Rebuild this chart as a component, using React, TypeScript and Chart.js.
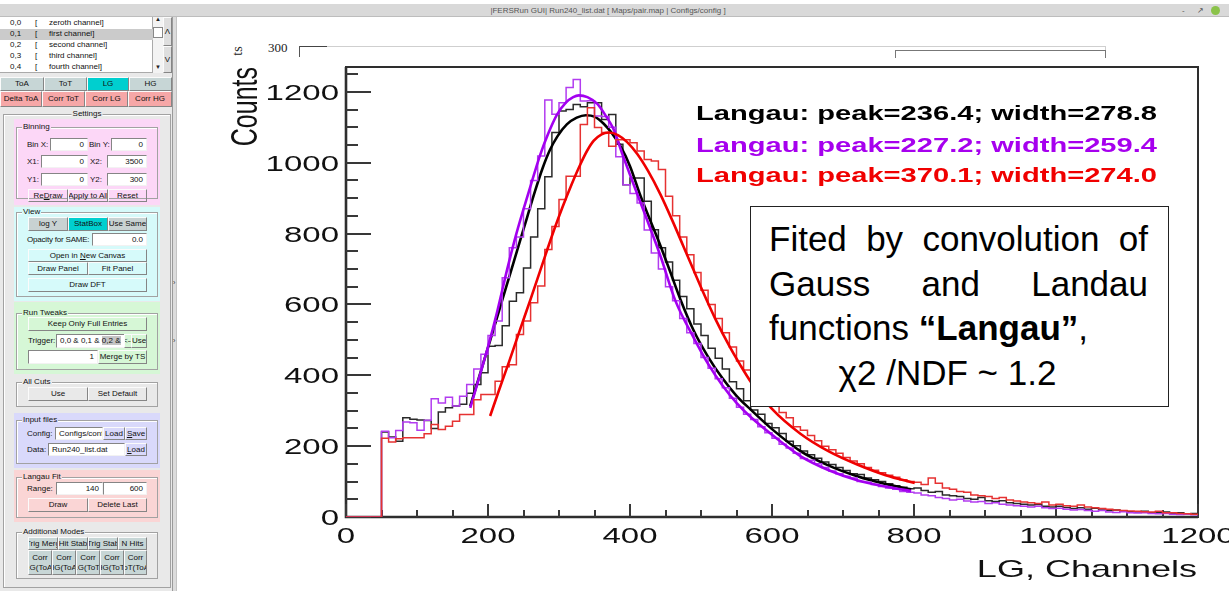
import React, { useEffect, useRef } from 'react';
import { Chart, registerables } from 'chart.js';

Chart.register(...registerables);

// ---------------- DATA ----------------
const BIN_START = 50;
const BIN_WIDTH = 10;

// LG histograms, counts per 10-channel bin, bins starting at 50
const BLACK_HIST = [
  240, 226, 214, 280, 276, 274, 272, 250, 296, 308,
  313, 318, 349, 374, 407, 482, 484, 540, 609, 633,
  703, 790, 870, 960, 1085, 1146, 1150, 1164, 1158, 1169,
  1169, 1122, 1136, 1052, 938, 957, 957, 891, 811, 760,
  720, 668, 622, 588, 545, 512, 476, 448, 418, 382,
  362, 328, 302, 290, 264, 252, 236, 214, 201, 186,
  176, 166, 155, 148, 140, 131, 122, 120, 110, 105,
  100, 94, 88, 84, 80, 82, 75, 70, 72, 62,
  60, 58, 52, 50, 55, 46, 44, 46, 40, 38,
  36, 34, 35, 30, 28, 30, 27, 24, 26, 22,
  25, 20, 18, 20, 16, 15, 14, 16, 12, 13,
  14, 10, 12, 9, 10,
];

const PURPLE_HIST = [
  242, 224, 244, 268, 266, 245, 273, 334, 322, 338,
  313, 341, 374, 418, 459, 512, 553, 675, 760, 790,
  870, 950, 1019, 1177, 1137, 1169, 1212, 1235, 1174, 1175,
  1132, 1130, 1100, 1017, 938, 913, 886, 810, 745, 700,
  650, 610, 560, 520, 490, 450, 420, 390, 365, 335,
  310, 290, 275, 255, 238, 222, 205, 195, 180, 165,
  160, 150, 140, 130, 122, 115, 110, 100, 98, 92,
  86, 82, 78, 72, 70, 68, 62, 60, 55, 52,
  48, 50, 45, 42, 44, 38, 40, 36, 34, 32,
  30, 28, 30, 26, 24, 25, 22, 20, 21, 18,
  16, 18, 14, 13, 15, 12, 11, 12, 10, 9,
  10, 8, 7, 8, 6,
];

const RED_HIST = [
  222, 212, 221, 224, 224, 224, 235, 261, 247, 256,
  270, 289, 289, 331, 346, 346, 383, 424, 430, 515,
  553, 605, 652, 755, 820, 896, 962, 962, 1108, 1155,
  1099, 1085, 1046, 1065, 1065, 1056, 1033, 1009, 1005, 981,
  905, 850, 790, 740, 690, 640, 600, 560, 520, 480,
  440, 415, 390, 365, 330, 315, 295, 280, 255, 245,
  230, 215, 200, 190, 180, 168, 158, 150, 140, 132,
  125, 118, 112, 105, 100, 98, 92, 110, 95, 82,
  78, 72, 70, 62, 60, 58, 52, 55, 48, 45,
  42, 40, 38, 42, 34, 36, 32, 30, 34, 28,
  26, 24, 22, 20, 18, 17, 16, 15, 14, 16,
  12, 12, 10, 9, 8,
];

// Langau fit curves (channel, counts)
const BLACK_FIT_X = [175, 190, 200, 213, 225, 241, 255, 266, 277, 287, 298, 311, 325, 338, 350, 363, 375, 387, 400, 415, 430, 443, 457, 471, 490, 510, 530, 550, 570, 600, 640, 680, 720, 760, 796];
const BLACK_FIT_Y = [313, 412, 478, 565, 645, 752, 845, 918, 985, 1035, 1075, 1108, 1127, 1134, 1130, 1110, 1082, 1045, 990, 905, 830, 765, 690, 614, 525, 452, 392, 342, 303, 248, 186, 145, 115, 93, 78];

const PURPLE_FIT_X = [175, 190, 200, 213, 227, 240, 257, 274, 285, 297, 310, 320, 328, 340, 354, 365, 377, 390, 405, 420, 443, 464, 490, 510, 530, 550, 570, 600, 640, 680, 720, 760, 796];
const PURPLE_FIT_Y = [308, 410, 480, 580, 699, 800, 915, 1025, 1083, 1135, 1170, 1185, 1190, 1185, 1166, 1135, 1094, 1020, 939, 860, 736, 610, 505, 432, 372, 322, 282, 232, 172, 132, 104, 86, 73];

const RED_FIT_X = [203, 215, 230, 245, 260, 281, 293, 305, 318, 330, 340, 349, 360, 370, 383, 396, 410, 425, 443, 460, 475, 490, 504, 520, 540, 555, 570, 600, 640, 680, 720, 760, 801];
const RED_FIT_Y = [285, 355, 440, 528, 615, 740, 810, 875, 940, 995, 1035, 1062, 1080, 1085, 1078, 1058, 1025, 978, 910, 835, 765, 695, 630, 560, 482, 430, 382, 305, 235, 185, 148, 118, 96];

const X_MIN = 0;
const X_MAX = 1200;
const Y_MIN = 0;
const Y_MAX = 1270;
const X_TICK_VALUES = [0, 200, 400, 600, 800, 1000, 1200];
const X_TICK_LABELS = ['0', '200', '400', '600', '800', '1000', '1200'];
const Y_TICK_VALUES = [0, 200, 400, 600, 800, 1000, 1200];
const Y_TICK_LABELS = ['0', '200', '400', '600', '800', '1000', '1200'];
const X_MINOR_STEP = 50;
const Y_MINOR_STEP = 50;

const X_TITLE = 'LG, Channels';
const Y_TITLE = 'Counts';
const LEGEND_TEXTS = [
  'Langau: peak=236.4; width=278.8',
  'Langau: peak=227.2; width=259.4',
  'Langau: peak=370.1; width=274.0',
];
const LEGEND_COLORS = ['#000000', '#a600ee', '#f00000'];

const TITLE = '|FERSRun GUI| Run240_list.dat [ Maps/pair.map | Configs/config ]';
const CHANNEL_ROWS = [
  ['0,0', 'zeroth channel]'],
  ['0,1', 'first channel]'],
  ['0,2', 'second channel]'],
  ['0,3', 'third channel]'],
  ['0,4', 'fourth channel]'],
];

// ---------------- helpers ----------------
const SANS = "'Liberation Sans', Arial, Helvetica, sans-serif";
const CANVAS_LEFT = 178;
const CANVAS_TOP = 17;
const CANVAS_W = 1051;
const CANVAS_H = 574;

function histPoints(vals: number[]) {
  const pts: { x: number; y: number }[] = [{ x: X_MIN, y: 0 }];
  vals.forEach((v, i) => pts.push({ x: BIN_START + i * BIN_WIDTH, y: v }));
  pts.push({ x: BIN_START + vals.length * BIN_WIDTH, y: vals[vals.length - 1] });
  return pts;
}
function curvePoints(xs: number[], ys: number[]) {
  return xs.map((x, i) => ({ x, y: ys[i] }));
}

const rootPlugin = {
  id: 'rootFrame',
  beforeDatasetsDraw(chart: any) {
    const { ctx, chartArea: a, scales } = chart;
    const xs = scales.x;
    const ys = scales.y;
    ctx.save();
    ctx.strokeStyle = '#2e2e2e';
    ctx.lineWidth = 2;
    ctx.strokeRect(a.left, a.top, a.right - a.left, a.bottom - a.top);
    ctx.lineWidth = 2.6;
    ctx.beginPath();
    ctx.moveTo(a.left, a.top);
    ctx.lineTo(a.left, a.bottom);
    ctx.lineTo(a.right, a.bottom);
    ctx.stroke();
    ctx.strokeStyle = '#383838';
    ctx.lineWidth = 2;
    ctx.beginPath();
    for (let v = Y_MIN; v <= Y_MAX; v += Y_MINOR_STEP) {
      const py = Math.round(ys.getPixelForValue(v));
      const len = Y_TICK_VALUES.includes(v) ? 25 : 12;
      ctx.moveTo(a.left, py);
      ctx.lineTo(a.left + len, py);
    }
    for (let v = X_MIN; v <= X_MAX; v += X_MINOR_STEP) {
      const px = Math.round(xs.getPixelForValue(v));
      const len = X_TICK_VALUES.includes(v) ? 13 : 7;
      ctx.moveTo(px, a.bottom);
      ctx.lineTo(px, a.bottom - len);
    }
    ctx.stroke();
    ctx.restore();
  },
  afterDatasetsDraw(chart: any) {
    const { ctx, chartArea: a, scales } = chart;
    const xs = scales.x;
    const ys = scales.y;
    const SX = 1.5;
    ctx.save();
    ctx.fillStyle = '#111';
    ctx.font = `22px ${SANS}`;
    ctx.textBaseline = 'alphabetic';
    // y labels
    Y_TICK_VALUES.forEach((v, i) => {
      const py = ys.getPixelForValue(v);
      ctx.save();
      ctx.translate(a.left - 7, py + 8);
      ctx.scale(SX, 1);
      ctx.textAlign = 'right';
      ctx.fillText(Y_TICK_LABELS[i], 0, 0);
      ctx.restore();
    });
    // x labels
    X_TICK_VALUES.forEach((v, i) => {
      const px = xs.getPixelForValue(v);
      ctx.save();
      ctx.translate(px, a.bottom + 26);
      ctx.scale(SX, 1);
      ctx.textAlign = 'center';
      ctx.fillText(X_TICK_LABELS[i], 0, 0);
      ctx.restore();
    });
    // x title
    ctx.save();
    ctx.font = `24px ${SANS}`;
    ctx.translate(a.right - 1, a.bottom + 60);
    ctx.scale(SX, 1);
    ctx.textAlign = 'right';
    ctx.fillText(X_TITLE, 0, 0);
    ctx.restore();
    // y title
    ctx.save();
    ctx.font = `25px ${SANS}`;
    ctx.translate(a.left - 89, a.top);
    ctx.scale(SX, 1);
    ctx.rotate(-Math.PI / 2);
    ctx.textAlign = 'right';
    ctx.fillText(Y_TITLE, 0, 0);
    ctx.restore();
    // legend texts
    const legendLeft = 696 - CANVAS_LEFT;
    const legendWidth = 461;
    const baselines = [120, 151.5, 182];
    LEGEND_TEXTS.forEach((t, i) => {
      ctx.save();
      ctx.font = `bold 21px ${SANS}`;
      const w = ctx.measureText(t).width;
      ctx.translate(legendLeft, baselines[i] - CANVAS_TOP);
      ctx.scale(legendWidth / w, 1);
      ctx.textAlign = 'left';
      ctx.fillStyle = LEGEND_COLORS[i];
      ctx.fillText(t, 0, 0);
      ctx.restore();
    });
    ctx.restore();
  },
};

// ---------------- GUI widgets ----------------
type R = { x: number; y: number; w: number; h: number };
const abs = (x: number, y: number, w: number, h: number): React.CSSProperties => ({
  position: 'absolute', left: x, top: y, width: w, height: h, boxSizing: 'border-box',
});

function Btn({ x, y, w, h, bg = 'transparent', children, multi = false }: R & { bg?: string; children: React.ReactNode; multi?: boolean }) {
  return (
    <div style={{
      ...abs(x, y, w, h), background: bg,
      borderTop: '1px solid #fbfbfb', borderLeft: '1px solid #fbfbfb',
      borderRight: '1px solid #858585', borderBottom: '1px solid #858585',
      display: 'flex', alignItems: 'center', justifyContent: 'center',
      fontSize: 8, lineHeight: multi ? '10px' : `${h - 2}px`, overflow: 'hidden',
      whiteSpace: multi ? 'pre' : 'nowrap', textAlign: 'center', color: '#111',
    }}><span style={{ whiteSpace: multi ? 'pre' : 'nowrap' }}>{children}</span></div>
  );
}

function Inp({ x, y, w, h, children, align = 'right' }: R & { children?: React.ReactNode; align?: 'left' | 'right' }) {
  return (
    <div style={{
      ...abs(x, y, w, h), background: '#fff',
      borderTop: '1px solid #858585', borderLeft: '1px solid #858585',
      borderRight: '1px solid #f2f2f2', borderBottom: '1px solid #f2f2f2',
      fontSize: 8, lineHeight: `${h - 2}px`, textAlign: align, padding: '0 3px',
      overflow: 'hidden', whiteSpace: 'nowrap', color: '#111',
    }}>{children}</div>
  );
}

function Txt({ x, y, h = 13, children }: { x: number; y: number; h?: number; children: React.ReactNode }) {
  return (
    <div style={{ position: 'absolute', left: x, top: y, height: h, lineHeight: `${h}px`, fontSize: 8, whiteSpace: 'nowrap', color: '#111' }}>{children}</div>
  );
}

function Group({ x, y, w, h, label, bg, center = false }: R & { label: string; bg: string; center?: boolean }) {
  return (
    <div style={{ ...abs(x, y, w, h), border: '1px solid #a2a2a2', boxShadow: 'inset 1px 1px 0 #fff' }}>
      <span style={{
        position: 'absolute', top: -6, left: center ? '50%' : 5,
        transform: center ? 'translateX(-50%)' : undefined,
        padding: '0 1px', background: bg, fontSize: 8, lineHeight: '10px', whiteSpace: 'nowrap', color: '#111',
      }}>{label}</span>
    </div>
  );
}

function Fill({ x, y, w, h, bg }: R & { bg: string }) {
  return <div style={{ ...abs(x, y, w, h), background: bg }} />;
}

const PANEL = '#e9e9e9';
const PINK = '#fcd7f7';
const CYAN = '#d6fafa';
const GREEN = '#d6f7d6';
const LAV = '#d9d9fb';
const ROSE = '#fad5d5';
const TAB = '#c7d6d6';
const TEAL = '#00cfcf';
const SALMON = '#f6a7a7';

function LeftPanel() {
  return (
    <>
      <Fill x={0} y={17} w={172} h={574} bg={PANEL} />
      {/* channel list */}
      <div style={{ ...abs(0, 17, 153, 56), background: '#fff', borderRight: '1px solid #aaa', borderBottom: '1px solid #aaa' }} />
      {CHANNEL_ROWS.map((r, i) => (
        <React.Fragment key={r[0]}>
          {i === 1 && <Fill x={0} y={17 + 11 * i + 0.5} w={153} h={11} bg="#cbcbcb" />}
          <Txt x={10} y={17 + 11 * i} h={11}>{r[0]}</Txt>
          <Txt x={35} y={17 + 11 * i} h={11}>[</Txt>
          <Txt x={49} y={17 + 11 * i} h={11}>{r[1]}</Txt>
        </React.Fragment>
      ))}
      <div style={{ ...abs(153, 17, 10, 56), background: '#f3f3f3' }} />
      <div style={{ position: 'absolute', left: 155, top: 16, fontSize: 6, color: '#222' }}>▲</div>
      <div style={{ ...abs(153, 27, 10, 11), background: '#fff', border: '1px solid #888' }} />
      <div style={{ position: 'absolute', left: 155, top: 64, fontSize: 6, color: '#222' }}>▼</div>
      <Btn x={163} y={17} w={9} h={29} bg="#dedede">Λ</Btn>
      <Btn x={163} y={46} w={9} h={27} bg="#dedede">V</Btn>
      {/* tabs */}
      <Btn x={0} y={77} w={44} h={14} bg={TAB}>ToA</Btn>
      <Btn x={44} y={77} w={43} h={14} bg={TAB}>ToT</Btn>
      <Btn x={87} y={77} w={42} h={14} bg={TEAL}>LG</Btn>
      <Btn x={129} y={77} w={43} h={14} bg={TAB}>HG</Btn>
      <Btn x={0} y={91} w={42} h={16} bg={SALMON}>Delta ToA</Btn>
      <Btn x={42} y={91} w={43} h={16} bg={SALMON}>Corr ToT</Btn>
      <Btn x={85} y={91} w={43} h={16} bg={SALMON}>Corr LG</Btn>
      <Btn x={128} y={91} w={44} h={16} bg={SALMON}>Corr HG</Btn>
      <Group x={3} y={114} w={168} h={474} label="Settings" bg={PANEL} center />

      {/* Binning */}
      <Fill x={14} y={119} w={146} h={86} bg={PINK} />
      <Group x={16} y={127} w={142} h={72} label="Binning" bg={PINK} />
      <Txt x={27} y={138}>Bin X:</Txt>
      <Inp x={50} y={138} w={38} h={13}>0</Inp>
      <Txt x={89} y={138}>Bin Y:</Txt>
      <Inp x={111} y={138} w={36} h={13}>0</Inp>
      <Txt x={27} y={155}>X1:</Txt>
      <Inp x={41} y={155} w={47} h={13}>0</Inp>
      <Txt x={90} y={155}>X2:</Txt>
      <Inp x={107} y={155} w={40} h={13}>3500</Inp>
      <Txt x={27} y={173}>Y1:</Txt>
      <Inp x={41} y={173} w={47} h={13}>0</Inp>
      <Txt x={90} y={173}>Y2:</Txt>
      <Inp x={107} y={173} w={40} h={13}>300</Inp>
      <Btn x={28} y={189} w={40} h={13}>Re<u>D</u>raw</Btn>
      <Btn x={68} y={189} w={40} h={13}>Apply to All</Btn>
      <Btn x={108} y={189} w={39} h={13}>Reset</Btn>

      {/* View */}
      <Fill x={14} y={207} w={146} h={94} bg={CYAN} />
      <Group x={16} y={212} w={142} h={85} label="View" bg={CYAN} />
      <Btn x={28} y={217} w={40} h={14} bg="#c8d2d2">log Y</Btn>
      <Btn x={68} y={217} w={40} h={14} bg={TEAL}>StatBox</Btn>
      <Btn x={108} y={217} w={39} h={14} bg="#c8d2d2">Use Same</Btn>
      <Txt x={27} y={233}><span style={{ letterSpacing: -0.2 }}>Opacity for SAME:</span></Txt>
      <Inp x={92} y={233} w={55} h={13}>0.0</Inp>
      <Btn x={28} y={249} w={119} h={13}>Open in <u>N</u>ew Canvas</Btn>
      <Btn x={28} y={262} w={60} h={13}>Draw Panel</Btn>
      <Btn x={88} y={262} w={59} h={13}>Fit Panel</Btn>
      <Btn x={28} y={278} w={119} h={14}>Draw DFT</Btn>

      {/* Run Tweaks */}
      <Fill x={14} y={302} w={146} h={72} bg={GREEN} />
      <Group x={16} y={313} w={142} h={57} label="Run Tweaks" bg={GREEN} />
      <Btn x={28} y={317} w={119} h={14}>Keep Only Full Entries</Btn>
      <Txt x={28} y={334}>Trigger:</Txt>
      <Inp x={56} y={334} w={69} h={14} align="left">0,0 &amp; 0,1 &amp; <span style={{ background: '#c4c4c4' }}>0,2 &amp;</span></Inp>
      <Btn x={124} y={334} w={8} h={14}>&lt;--</Btn>
      <Btn x={131} y={334} w={16} h={14}>Use</Btn>
      <Inp x={28} y={350} w={70} h={14}>1</Inp>
      <Btn x={98} y={350} w={49} h={14}>Merge by TS</Btn>

      {/* All Cuts */}
      <Group x={16} y={382} w={142} h={25} label="All Cuts" bg={PANEL} />
      <Btn x={28} y={387} w={60} h={14}>Use</Btn>
      <Btn x={88} y={387} w={59} h={14}>Set Default</Btn>

      {/* Input files */}
      <Fill x={14} y={413} w={146} h={55} bg={LAV} />
      <Group x={16} y={420} w={142} h={44} label="Input files" bg={LAV} />
      <Txt x={27} y={427}>Config:</Txt>
      <Inp x={55} y={427} w={48} h={13} align="left">Configs/confi</Inp>
      <Btn x={103} y={427} w={22} h={13}>Load</Btn>
      <Btn x={125} y={427} w={22} h={13}><u>S</u>ave</Btn>
      <Txt x={27} y={443}>Data:</Txt>
      <Inp x={48} y={443} w={77} h={13} align="left">Run240_list.dat</Inp>
      <Btn x={125} y={443} w={22} h={13}><u>L</u>oad</Btn>

      {/* Langau Fit */}
      <Fill x={14} y={470} w={146} h={52} bg={ROSE} />
      <Group x={16} y={477} w={142} h={41} label="Langau Fit" bg={ROSE} />
      <Txt x={27} y={482}>Range:</Txt>
      <Inp x={56} y={482} w={47} h={13}>140</Inp>
      <Inp x={103} y={482} w={44} h={13}>600</Inp>
      <Btn x={28} y={498} w={60} h={14}>Draw</Btn>
      <Btn x={88} y={498} w={59} h={14}>Delete Last</Btn>

      {/* Additional Modes */}
      <Group x={16} y={532} w={142} h={47} label="Additional Modes" bg={PANEL} />
      <Btn x={28} y={537} w={30} h={13} bg={TAB}>Trig Merg</Btn>
      <Btn x={58} y={537} w={30} h={13} bg={TAB}>Hit Stab</Btn>
      <Btn x={88} y={537} w={30} h={13} bg={TAB}>Trig Stab</Btn>
      <Btn x={118} y={537} w={29} h={13} bg={TAB}>N Hits</Btn>
      <Btn x={28} y={550} w={24} h={25} bg={TAB} multi>{'Corr\nLG(ToA)'}</Btn>
      <Btn x={52} y={550} w={24} h={25} bg={TAB} multi>{'Corr\nHG(ToA)'}</Btn>
      <Btn x={76} y={550} w={24} h={25} bg={TAB} multi>{'Corr\nLG(ToT)'}</Btn>
      <Btn x={100} y={550} w={24} h={25} bg={TAB} multi>{'Corr\nHG(ToT)'}</Btn>
      <Btn x={124} y={550} w={23} h={25} bg={TAB} multi>{'Corr\nToT(ToA)'}</Btn>

      {/* splitter */}
      <div style={{ ...abs(172, 17, 5, 574), background: '#dcdcdc', borderLeft: '1px solid #9a9a9a', borderRight: '1px solid #c4c4c4' }} />
      <div style={{ position: 'absolute', left: 173, top: 279, fontSize: 7, color: '#333' }}>›</div>
      <div style={{ position: 'absolute', left: 173, top: 337, fontSize: 7, color: '#333' }}>›</div>
    </>
  );
}

function TopBar() {
  return (
    <>
      <div style={{ ...abs(0, 4, 1229, 13), background: '#d9d9d9', borderBottom: '1px solid #bdbdbd' }} />
      <div style={{
        position: 'absolute', left: 0, top: 5, width: 1216, height: 11, lineHeight: '11px', textAlign: 'center',
        fontFamily: "'Liberation Sans Narrow', 'Liberation Sans', Arial, sans-serif", fontSize: 8, color: '#555',
      }}>{TITLE}</div>
      <div style={{ position: 'absolute', left: 1182, top: 5, fontSize: 8, lineHeight: '11px', color: '#555' }}>-</div>
      <div style={{ position: 'absolute', left: 1197, top: 5, fontSize: 8, lineHeight: '11px', color: '#555' }}>↗</div>
      <div style={{ ...abs(1211, 6, 9, 9), borderRadius: 5, background: '#8bc34a' }} />
    </>
  );
}

function Ghost() {
  return (
    <>
      <div style={{
        position: 'absolute', left: 268, top: 41, fontFamily: "'Liberation Serif', 'Times New Roman', serif",
        fontSize: 13, lineHeight: '13px', color: '#222',
      }}>300</div>
      <div style={{
        position: 'absolute', left: 232, top: 44, width: 11, height: 14, lineHeight: '14px',
        fontFamily: "'Liberation Serif', 'Times New Roman', serif", fontSize: 14, color: '#222',
        transform: 'rotate(-90deg)', textAlign: 'center',
      }}>ts</div>
      <div style={{ ...abs(299, 46, 28, 1), background: '#444' }} />
      <div style={{ ...abs(327, 46, 779, 1), background: '#cfcfcf' }} />
      <div style={{ ...abs(299, 46, 1, 11), background: '#555' }} />
      <div style={{ ...abs(1105, 46, 1, 11), background: '#cfcfcf' }} />
      <div style={{ ...abs(895, 50, 211, 8), borderLeft: '1px solid #777', borderTop: '1px solid #777', borderRight: '1px solid #777' }} />
    </>
  );
}

function FitNote() {
  const line: React.CSSProperties = { height: 44.5, lineHeight: '44.5px', whiteSpace: 'nowrap' };
  return (
    <div style={{
      ...abs(750, 206, 419, 201), background: '#fff', border: '1px solid #222',
      padding: '10px 20px 0 18px', fontFamily: SANS, fontSize: 35, color: '#000',
    }}>
      <div style={{ ...line, textAlign: 'justify', textAlignLast: 'justify' }}>Fited by convolution of</div>
      <div style={{ ...line, textAlign: 'justify', textAlignLast: 'justify' }}>Gauss and Landau</div>
      <div style={line}>functions <b>“Langau”</b>,</div>
      <div style={{ ...line, textAlign: 'center', paddingRight: 22 }}>χ2 /NDF ~ 1.2</div>
    </div>
  );
}

export default function App() {
  const ref = useRef<HTMLCanvasElement>(null);

  useEffect(() => {
    document.body.style.margin = '0';
    const canvas = ref.current;
    if (!canvas) return;
    const chart = new Chart(canvas, {
      type: 'line',
      data: {
        datasets: [
          { data: curvePoints(RED_FIT_X, RED_FIT_Y), borderColor: '#f00000', borderWidth: 2.6, cubicInterpolationMode: 'monotone', pointRadius: 0, fill: false },
          { data: histPoints(RED_HIST), borderColor: '#e63232', borderWidth: 1.5, stepped: true, pointRadius: 0, fill: false },
          { data: curvePoints(PURPLE_FIT_X, PURPLE_FIT_Y), borderColor: '#a300f0', borderWidth: 2.6, cubicInterpolationMode: 'monotone', pointRadius: 0, fill: false },
          { data: histPoints(PURPLE_HIST), borderColor: '#b23cf0', borderWidth: 1.5, stepped: true, pointRadius: 0, fill: false },
          { data: curvePoints(BLACK_FIT_X, BLACK_FIT_Y), borderColor: '#000000', borderWidth: 2.6, cubicInterpolationMode: 'monotone', pointRadius: 0, fill: false },
          { data: histPoints(BLACK_HIST), borderColor: '#2a2a2a', borderWidth: 1.5, stepped: true, pointRadius: 0, fill: false },
        ] as any,
      },
      options: {
        animation: false,
        responsive: false,
        devicePixelRatio: 1,
        events: [],
        parsing: true,
        layout: { padding: { left: 168, right: 31, top: 50, bottom: 74 } },
        scales: {
          x: { type: 'linear', min: X_MIN, max: X_MAX, display: false },
          y: { type: 'linear', min: Y_MIN, max: Y_MAX, display: false },
        },
        plugins: { legend: { display: false }, tooltip: { enabled: false }, title: { display: false } },
      } as any,
      plugins: [rootPlugin],
    });
    return () => chart.destroy();
  }, []);

  return (
    <div style={{ position: 'fixed', left: 0, top: 0, width: 1229, height: 591, overflow: 'hidden', background: '#fff', fontFamily: SANS }}>
      <TopBar />
      <LeftPanel />
      <Ghost />
      <canvas
        ref={ref}
        width={CANVAS_W}
        height={CANVAS_H}
        style={{ position: 'absolute', left: CANVAS_LEFT, top: CANVAS_TOP, width: CANVAS_W, height: CANVAS_H }}
      />
      <FitNote />
    </div>
  );
}
